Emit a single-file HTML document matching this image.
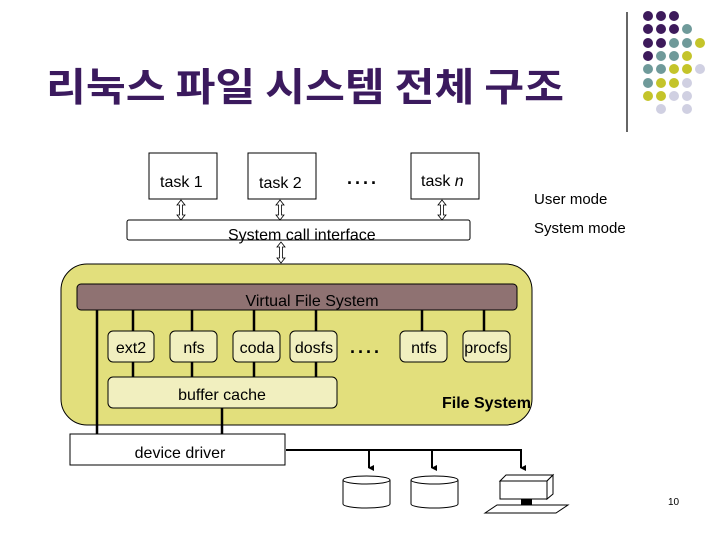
<!DOCTYPE html>
<html><head><meta charset="utf-8"><style>
html,body{margin:0;padding:0;background:#fff;}
svg{display:block;font-family:"Liberation Sans","Noto Sans CJK KR",sans-serif;}
</style></head><body>
<svg width="720" height="540" viewBox="0 0 720 540" xmlns="http://www.w3.org/2000/svg">
<defs><marker id="ah" markerWidth="6" markerHeight="6" refX="3" refY="5" orient="auto" markerUnits="userSpaceOnUse"><path d="M0,0 L6,0 L3,6z" fill="#000"/></marker></defs>
<text x="46" y="101" font-size="39" font-weight="bold" fill="#3b1a5e" font-family="'Noto Sans CJK KR',sans-serif" textLength="518" lengthAdjust="spacingAndGlyphs">리눅스 파일 시스템 전체 구조</text>
<line x1="627" y1="12" x2="627" y2="132" stroke="#333" stroke-width="1.5"/>
<g>
<g fill="#3d1a5b"><circle cx="648" cy="16" r="5"/><circle cx="661" cy="16" r="5"/><circle cx="674" cy="16" r="5"/>
<circle cx="648" cy="29" r="5"/><circle cx="661" cy="29" r="5"/><circle cx="674" cy="29" r="5"/>
<circle cx="648" cy="43" r="5"/><circle cx="661" cy="43" r="5"/><circle cx="648" cy="56" r="5"/></g>
<g fill="#6f9a9a"><circle cx="687" cy="29" r="5"/><circle cx="674" cy="43" r="5"/><circle cx="687" cy="43" r="5"/>
<circle cx="661" cy="56" r="5"/><circle cx="674" cy="56" r="5"/><circle cx="648" cy="69" r="5"/><circle cx="661" cy="69" r="5"/><circle cx="648" cy="83" r="5"/></g>
<g fill="#c4c42a"><circle cx="700" cy="43" r="5"/><circle cx="687" cy="56" r="5"/><circle cx="674" cy="69" r="5"/><circle cx="687" cy="69" r="5"/>
<circle cx="661" cy="83" r="5"/><circle cx="674" cy="83" r="5"/><circle cx="648" cy="96" r="5"/><circle cx="661" cy="96" r="5"/></g>
<g fill="#d0d0e2"><circle cx="700" cy="69" r="5"/><circle cx="687" cy="83" r="5"/><circle cx="674" cy="96" r="5"/><circle cx="687" cy="96" r="5"/>
<circle cx="661" cy="109" r="5"/><circle cx="687" cy="109" r="5"/></g>
</g>
<g stroke="#000" fill="#fff" stroke-width="1">
<rect x="149" y="153" width="68" height="46"/>
<rect x="248" y="153" width="68" height="46"/>
<rect x="411" y="153" width="68" height="46"/>
<rect x="127" y="220" width="343" height="20" rx="2"/>
</g>
<g font-size="16" fill="#000">
<text x="160" y="187">task 1</text>
<text x="259" y="188">task 2</text>
<text x="421" y="186">task <tspan font-style="italic">n</tspan></text>
<text x="347" y="184" font-size="18" font-weight="bold" letter-spacing="3">....</text>
<text x="228" y="240">System call interface</text>
<text x="534" y="204" font-size="15">User mode</text>
<text x="534" y="233" font-size="15">System mode</text>
</g>
<g fill="#fff" stroke="#000" stroke-width="0.8">
<path d="M181,200 L177,205 L179.5,205 L179.5,215 L177,215 L181,220 L185,215 L182.5,215 L182.5,205 L185,205 Z"/>
<path d="M280,200 L276,205 L278.5,205 L278.5,215 L276,215 L280,220 L284,215 L281.5,215 L281.5,205 L284,205 Z"/>
<path d="M442,200 L438,205 L440.5,205 L440.5,215 L438,215 L442,220 L446,215 L443.5,215 L443.5,205 L446,205 Z"/>
<path d="M281,242 L277,247 L279.5,247 L279.5,258 L277,258 L281,263 L285,258 L282.5,258 L282.5,247 L285,247 Z"/>
</g>
<rect x="61" y="264" width="471" height="161" rx="26" fill="#e2df7c" stroke="#000" stroke-width="1"/>
<rect x="77" y="284" width="440" height="26" rx="4" fill="#8f7272" stroke="#000" stroke-width="1"/>
<text x="312" y="306" font-size="16" text-anchor="middle">Virtual File System</text>
<g stroke="#000" stroke-width="2.5">
<line x1="97" y1="310" x2="97" y2="434"/>
<line x1="133" y1="310" x2="133" y2="377"/><line x1="192" y1="310" x2="192" y2="377"/>
<line x1="254" y1="310" x2="254" y2="377"/><line x1="316" y1="310" x2="316" y2="377"/>
<line x1="422" y1="310" x2="422" y2="331"/><line x1="484" y1="310" x2="484" y2="331"/>
<line x1="222" y1="408" x2="222" y2="434"/>
</g>
<g fill="#f1efbf" stroke="#000" stroke-width="1">
<rect x="108" y="331" width="46" height="31" rx="5"/><rect x="170" y="331" width="47" height="31" rx="5"/>
<rect x="233" y="331" width="47" height="31" rx="5"/><rect x="290" y="331" width="47" height="31" rx="5"/>
<rect x="400" y="331" width="47" height="31" rx="5"/><rect x="463" y="331" width="47" height="31" rx="5"/>
<rect x="108" y="377" width="229" height="31" rx="5"/>
</g>
<rect x="70" y="434" width="215" height="31" fill="#fff" stroke="#000"/>
<g font-size="16" text-anchor="middle">
<text x="131" y="353">ext2</text><text x="194" y="353">nfs</text><text x="257" y="353">coda</text>
<text x="314" y="353">dosfs</text><text x="424" y="353">ntfs</text><text x="486" y="353">procfs</text>
<text x="222" y="400">buffer cache</text>
<text x="180" y="458">device driver</text>
</g>
<text x="350" y="353" font-size="18" font-weight="bold" letter-spacing="3">....</text>
<text x="442" y="408" font-size="16" font-weight="bold">File System</text>
<g stroke="#000" stroke-width="2" fill="none">
<polyline points="286,450 521,450 521,468" marker-end="url(#ah)"/>
<line x1="369" y1="450" x2="369" y2="468" marker-end="url(#ah)"/>
<line x1="432" y1="450" x2="432" y2="468" marker-end="url(#ah)"/>
</g>
<g fill="#fff" stroke="#000" stroke-width="1">
<path d="M343,480 L343,504 A23.5,4 0 0 0 390,504 L390,480"/><ellipse cx="366.5" cy="480" rx="23.5" ry="4"/>
<path d="M411,480 L411,504 A23.5,4 0 0 0 458,504 L458,480"/><ellipse cx="434.5" cy="480" rx="23.5" ry="4"/>
<path d="M500,481 L506,475 L553,475 L547,481 Z"/><path d="M547,481 L553,475 L553,494 L547,499 Z"/>
<rect x="500" y="481" width="47" height="18"/>
<path d="M485,513 L497,505 L568,505 L556,513 Z"/>
</g>
<rect x="521" y="499" width="11" height="6" fill="#000"/>
<text x="668" y="505" font-size="10">10</text>
</svg>
</body></html>
